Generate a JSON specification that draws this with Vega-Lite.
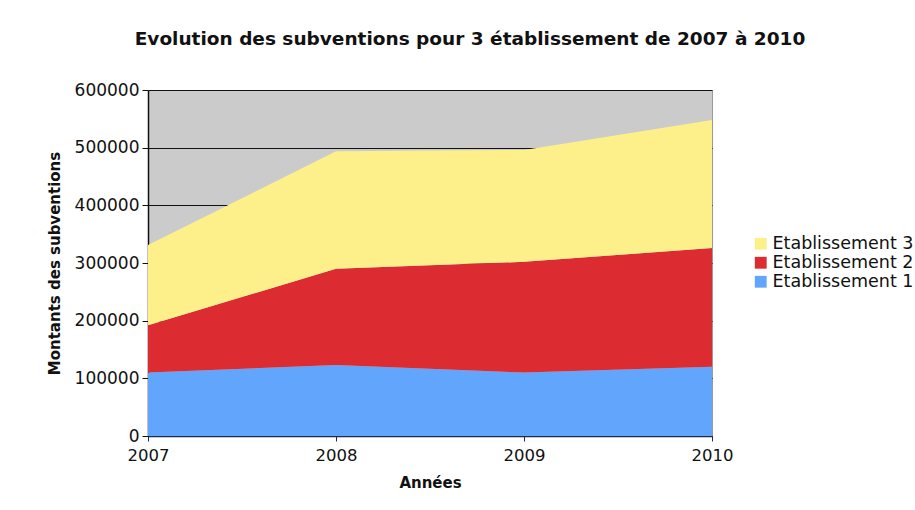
{
  "$schema": "https://vega.github.io/schema/vega-lite/v6.json",
  "autosize": {"type": "none"},
  "width": 564,
  "height": 346,
  "padding": {"left": 148, "top": 90, "right": 203, "bottom": 74},
  "background": "white",
  "title": {
    "text": "Evolution des subventions pour 3 établissement de 2007 à 2010",
    "font": "DejaVu Sans",
    "fontSize": 18.5,
    "fontWeight": "bold",
    "color": "#111111",
    "anchor": "middle",
    "dx": 40,
    "offset": 33
  },
  "config": {
    "view": {"fill": "#cbcbcb", "stroke": "#999999", "strokeWidth": 1},
    "axis": {"labelFont": "DejaVu Sans", "titleFont": "DejaVu Sans", "labelColor": "#111111", "titleColor": "#111111"}
  },
  "data": {
    "values": [
      {"annee": 2007, "etablissement": "Etablissement 1", "rang": 1, "montant": 110000},
      {"annee": 2008, "etablissement": "Etablissement 1", "rang": 1, "montant": 123000},
      {"annee": 2009, "etablissement": "Etablissement 1", "rang": 1, "montant": 110000},
      {"annee": 2010, "etablissement": "Etablissement 1", "rang": 1, "montant": 120000},
      {"annee": 2007, "etablissement": "Etablissement 2", "rang": 2, "montant": 82000},
      {"annee": 2008, "etablissement": "Etablissement 2", "rang": 2, "montant": 167000},
      {"annee": 2009, "etablissement": "Etablissement 2", "rang": 2, "montant": 192000},
      {"annee": 2010, "etablissement": "Etablissement 2", "rang": 2, "montant": 206000},
      {"annee": 2007, "etablissement": "Etablissement 3", "rang": 3, "montant": 139000},
      {"annee": 2008, "etablissement": "Etablissement 3", "rang": 3, "montant": 204000},
      {"annee": 2009, "etablissement": "Etablissement 3", "rang": 3, "montant": 194000},
      {"annee": 2010, "etablissement": "Etablissement 3", "rang": 3, "montant": 222000}
    ]
  },
  "mark": {"type": "area", "opacity": 1},
  "encoding": {
    "x": {
      "field": "annee",
      "type": "quantitative",
      "scale": {"domain": [2007, 2010], "nice": false, "zero": false},
      "axis": {
        "title": "Années",
        "titleFontSize": 15,
        "titleFontWeight": "bold",
        "titlePadding": 12,
        "values": [2007, 2008, 2009, 2010],
        "format": "d",
        "labelFontSize": 16.5,
        "labelPadding": 6,
        "labelFlush": false,
        "grid": false,
        "domainColor": "#1a2a50",
        "domainWidth": 1.5,
        "tickColor": "#1a2a50",
        "tickSize": 5
      }
    },
    "y": {
      "field": "montant",
      "type": "quantitative",
      "stack": "zero",
      "scale": {"domain": [0, 600000], "nice": false},
      "axis": {
        "title": "Montants des subventions",
        "titleFontSize": 15,
        "titleFontWeight": "bold",
        "titlePadding": 12,
        "values": [0, 100000, 200000, 300000, 400000, 500000, 600000],
        "format": "d",
        "labelFontSize": 17,
        "labelPadding": 3,
        "grid": true,
        "gridColor": "#111111",
        "gridWidth": 1,
        "gridOpacity": 1,
        "domainColor": "#111111",
        "domainWidth": 1.5,
        "tickColor": "#111111",
        "tickSize": 6
      }
    },
    "color": {
      "field": "etablissement",
      "type": "nominal",
      "scale": {
        "domain": ["Etablissement 3", "Etablissement 2", "Etablissement 1"],
        "range": ["#fdf08a", "#dc2b31", "#62a5fd"]
      },
      "legend": {
        "title": null,
        "orient": "none",
        "legendX": 604,
        "legendY": 145,
        "symbolType": "square",
        "symbolSize": 140,
        "symbolStrokeWidth": 0,
        "symbolOpacity": 1,
        "labelFont": "DejaVu Sans",
        "labelFontSize": 17.5,
        "labelColor": "#111111",
        "rowPadding": 0,
        "labelOffset": 3
      }
    },
    "order": {"field": "rang", "type": "quantitative", "sort": "ascending"}
  }
}
